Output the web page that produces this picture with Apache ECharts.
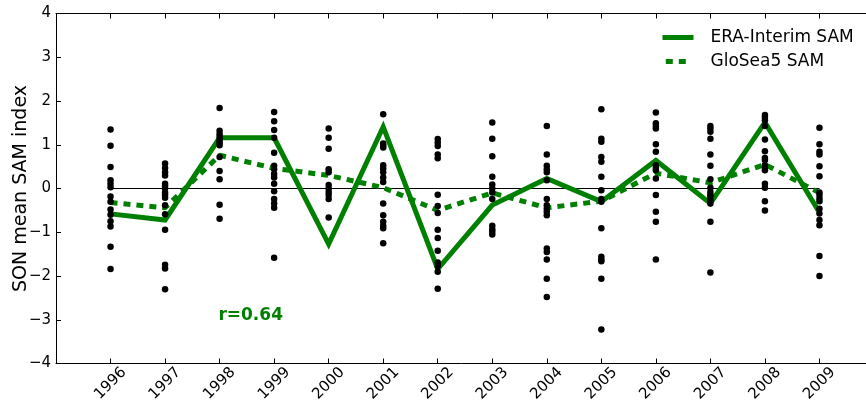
<!DOCTYPE html>
<html>
<head>
<meta charset="utf-8">
<script src="https://cdn.jsdelivr.net/npm/echarts@6/dist/echarts.min.js"></script>
<style>
  html, body { margin: 0; padding: 0; background: #fff; }
  #chart { width: 866px; height: 407px; }
</style>
</head>
<body>
<div id="chart"></div>
<script>
// Seasonal (SON) Southern Annular Mode index, 1996-2009
const years = [1996, 1997, 1998, 1999, 2000, 2001, 2002, 2003, 2004, 2005, 2006, 2007, 2008, 2009];

// Reanalysis SAM index
const eraInterimSam = [-0.58, -0.72, 1.16, 1.16, -1.27, 1.41, -1.84, -0.38, 0.23, -0.30, 0.64, -0.34, 1.51, -0.55];

// Forecast ensemble-mean SAM index
const gloSea5Sam = [-0.32, -0.44, 0.76, 0.46, 0.30, 0.02, -0.50, -0.10, -0.44, -0.29, 0.35, 0.13, 0.55, -0.10];

// Individual forecast members, one list per year (same order as `years`)
const ensembleMembers = [
  [1.35, 0.98, 0.49, 0.19, 0.11, 0.03, -0.18, -0.30, -0.48, -0.60, -0.75, -0.87, -1.33, -1.84],
  [0.57, 0.47, 0.37, 0.30, 0.11, 0.06, 0.00, -0.09, -0.15, -0.21, -0.38, -0.59, -0.94, -1.74, -1.83, -2.30],
  [1.84, 1.32, 1.24, 1.17, 1.10, 1.05, 0.99, 0.72, 0.40, 0.21, -0.37, -0.69],
  [1.75, 1.54, 1.34, 1.16, 0.82, 0.52, 0.44, 0.33, 0.25, 0.11, -0.06, -0.24, -0.34, -0.44, -1.58],
  [1.37, 1.16, 0.91, 0.44, 0.37, 0.08, 0.00, -0.08, -0.15, -0.24, -0.66],
  [1.70, 1.03, 0.98, 0.94, 0.53, 0.46, 0.37, 0.25, 0.15, -0.34, -0.61, -0.76, -0.85, -0.91, -1.25],
  [1.13, 1.05, 0.97, 0.78, 0.69, -0.14, -0.40, -0.56, -0.94, -1.13, -1.42, -1.69, -1.77, -1.90, -2.29],
  [1.51, 1.14, 0.74, 0.27, 0.09, 0.00, -0.09, -0.24, -0.85, -0.93, -0.99, -1.05],
  [1.43, 0.78, 0.52, 0.44, 0.37, 0.19, -0.24, -0.38, -0.46, -0.53, -0.61, -1.37, -1.45, -1.62, -2.06, -2.48],
  [1.81, 1.14, 1.07, 0.72, 0.61, 0.27, -0.04, -0.24, -0.30, -0.91, -1.56, -1.62, -1.66, -2.06, -3.22],
  [1.74, 1.49, 1.43, 1.37, 1.01, 0.84, 0.53, 0.47, 0.42, 0.23, -0.15, -0.53, -0.76, -1.62],
  [1.43, 1.37, 1.30, 1.14, 0.78, 0.52, 0.21, 0.02, -0.08, -0.14, -0.19, -0.27, -0.34, -0.76, -1.92],
  [1.68, 1.62, 1.56, 1.43, 1.12, 0.85, 0.70, 0.65, 0.53, 0.47, 0.42, 0.11, 0.02, -0.29, -0.50],
  [1.39, 1.01, 0.84, 0.78, 0.51, 0.28, -0.09, -0.15, -0.23, -0.29, -0.46, -0.57, -0.72, -0.84, -1.54, -2.00]
];

// Correlation annotation and its anchor in data units
const correlationText = 'r=0.64';
const correlationAnchor = [1998.57, -2.91];

const yTicks = { min: -4, max: 4, step: 1 };

const GREEN = '#008000';
const FONT = 'DejaVu Sans';

const memberPoints = [];
ensembleMembers.forEach((list, i) => list.forEach(v => memberPoints.push([years[i], v])));

const pair = arr => years.map((y, i) => [y, arr[i]]);
const firstYear = years[0], lastYear = years[years.length - 1];
const fmtNum = v => (v < 0 ? '\u2212' + Math.abs(v) : String(v));

const chart = echarts.init(document.getElementById('chart'), null, { renderer: 'canvas' });

const baseX = {
  type: 'value',
  min: firstYear - 1,
  max: lastYear + 1,
  interval: 1,
  splitLine: { show: false },
  axisLine: { show: true, onZero: false, lineStyle: { color: '#000', width: 1 } },
  axisTick: { show: true, inside: true, length: 5, lineStyle: { color: '#000' } }
};

chart.setOption({
  animation: false,
  backgroundColor: '#fff',
  // half-pixel top offset keeps the thin zero reference line crisp
  grid: { left: 56, top: 13.5, width: 818, height: 350, containLabel: false, outerBoundsMode: 'none' },
  legend: {
    orient: 'vertical',
    left: 655,
    top: 24,
    itemWidth: 31,
    itemHeight: 14,
    itemGap: 7,
    itemStyle: { opacity: 0 },
    textStyle: { fontFamily: FONT, fontSize: 17, color: '#000', padding: [0, 0, 0, 12] },
    data: [
      { name: 'ERA-Interim SAM', lineStyle: { width: 5, color: GREEN, type: 'solid' } },
      { name: 'GloSea5 SAM', lineStyle: { width: 5, color: GREEN, type: [7, 6, 7, 20], dashOffset: 36.7 } }
    ]
  },
  xAxis: [
    Object.assign({}, baseX, {
      position: 'bottom',
      axisLabel: {
        rotate: 45,
        fontFamily: FONT,
        fontSize: 15,
        color: '#000',
        align: 'center',
        verticalAlign: 'middle',
        margin: 20,
        formatter: v => (v >= firstYear && v <= lastYear ? String(v) : '')
      }
    }),
    Object.assign({}, baseX, {
      position: 'top',
      axisLabel: { show: false }
    })
  ],
  yAxis: {
    type: 'value',
    min: yTicks.min,
    max: yTicks.max,
    interval: yTicks.step,
    splitLine: { show: false },
    axisLine: { show: true, lineStyle: { color: '#000', width: 1 } },
    axisTick: { show: true, inside: true, length: 5, lineStyle: { color: '#000' } },
    axisLabel: { fontFamily: FONT, fontSize: 15, color: '#000', margin: 5, formatter: fmtNum },
    name: 'SON mean SAM index',
    nameLocation: 'middle',
    nameGap: 25,
    nameMoveOverlap: false,
    nameTextStyle: { fontFamily: FONT, fontSize: 19, color: '#000' }
  },
  series: [
    {
      name: 'zero',
      type: 'line',
      data: [[firstYear, 0], [lastYear, 0]],
      symbol: 'none',
      silent: true,
      lineStyle: { color: '#000', width: 1, opacity: 1 },
      z: 1
    },
    {
      name: 'ERA-Interim SAM',
      type: 'line',
      data: pair(eraInterimSam),
      symbol: 'none',
      color: GREEN,
      lineStyle: { color: GREEN, width: 5, cap: 'butt', join: 'miter', opacity: 1 },
      z: 2
    },
    {
      name: 'GloSea5 SAM',
      type: 'line',
      data: pair(gloSea5Sam),
      symbol: 'none',
      color: GREEN,
      lineStyle: { color: GREEN, width: 5, type: [7, 6], cap: 'butt', opacity: 1 },
      z: 3
    },
    {
      name: 'members',
      type: 'scatter',
      data: memberPoints,
      symbol: 'circle',
      symbolSize: 6.5,
      itemStyle: { color: '#000', opacity: 1 },
      z: 4
    },
    {
      name: 'correlation',
      type: 'scatter',
      data: [correlationAnchor],
      symbolSize: 0,
      silent: true,
      itemStyle: { opacity: 1 },
      label: {
        show: true,
        position: 'inside',
        formatter: correlationText,
        fontFamily: FONT,
        fontWeight: 'bold',
        fontSize: 17,
        color: GREEN
      },
      z: 5
    }
  ]
});
</script>
</body>
</html>
